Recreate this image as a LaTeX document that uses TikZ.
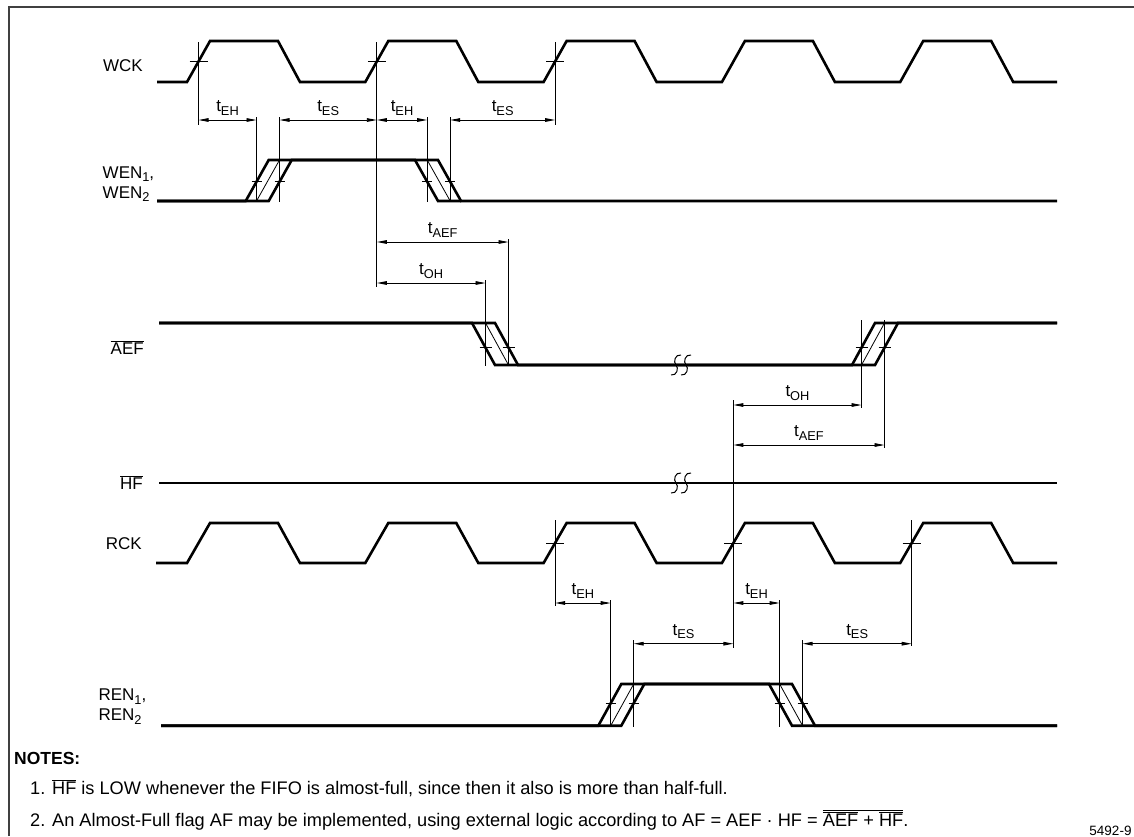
\documentclass[tikz,border=0pt]{standalone}
\usepackage{fontspec}
\setmainfont{Liberation Sans}
\usetikzlibrary{arrows.meta}
\newcommand\ovl[1]{$\overline{\mbox{#1}}$}
\newcommand\sbs[1]{\raisebox{-3.6pt}{\fontsize{12.8}{13}\selectfont #1}}
\begin{document}
\begin{tikzpicture}[x=1pt,y=-1pt,
  sig/.style={line width=2.6pt},
  hatch/.style={line width=0.8pt},
  refl/.style={line width=1pt},
  tick/.style={line width=0.9pt},
  frame/.style={line width=1.2pt,black!75},
  dim/.style={line width=0.9pt,{Triangle[length=10pt,width=3.6pt]}-{Triangle[length=10pt,width=3.6pt]}},
  lbl/.style={font=\fontsize{17}{20}\selectfont,inner sep=0pt},
  tl/.style={font=\fontsize{17}{20}\selectfont,inner sep=0pt,anchor=base,yshift=8.5pt},
  note/.style={font=\fontsize{18.2}{21}\selectfont,inner sep=0pt,anchor=base west},
  brk/.pic={\draw[line width=1pt] (5,-10) .. controls (-1,-11) and (-3,-3) .. (0,0) .. controls (3,3) and (1,11) .. (-5,10);}
]
\useasboundingbox (0,0) rectangle (1134,836);
\draw[frame] (9,836) -- (9,7) -- (1134,7);

% ---------- labels ----------
\node[lbl,anchor=base east] (lwck) at (143,71.5) {WCK};
\node[lbl,anchor=base west] (lwen1) at (102.5,178.3) {WEN\sbs{1},};
\node[lbl,anchor=base west] (lwen2) at (102.5,198.3) {WEN\sbs{2}};
\node[lbl,anchor=base east] (laef) at (144,354) {\ovl{AEF}};
\node[lbl,anchor=base east] (lhf) at (143,489) {\ovl{HF}};
\node[lbl,anchor=base east] (lrck) at (142,549) {RCK};
\node[lbl,anchor=base west] (lren1) at (98.3,700.7) {REN\sbs{1},};
\node[lbl,anchor=base west] (lren2) at (98.3,720.7) {REN\sbs{2}};

% ---------- waveforms ----------
% WCK
\draw[sig] (157,82) -- (187,82) -- (210,41) -- (278,41) -- (300,82) -- (365.3,82) -- (388.3,41) -- (456.3,41) -- (478.3,82) -- (543.6,82) -- (566.6,41) -- (634.6,41) -- (656.6,82) -- (721.9,82) -- (744.9,41) -- (812.9,41) -- (834.9,82) -- (900.2,82) -- (923.2,41) -- (991.2,41) -- (1013.2,82) -- (1057,82);
% RCK
\draw[sig] (156,563) -- (187,563) -- (210,523) -- (278,523) -- (300,563) -- (365.3,563) -- (388.3,523) -- (456.3,523) -- (478.3,563) -- (543.6,563) -- (566.6,523) -- (634.6,523) -- (656.6,563) -- (721.9,563) -- (744.9,523) -- (812.9,523) -- (834.9,563) -- (900.2,563) -- (923.2,523) -- (991.2,523) -- (1013.2,563) -- (1057,563);
% WEN
\draw[sig] (157,201) -- (245.7,201) -- (268.7,160) -- (438,160) -- (461,201) -- (1057,201);
\draw[sig] (157,201) -- (268.7,201) -- (291.7,160) -- (415,160) -- (438,201) -- (461,201);
\draw[hatch] (256.5,201) -- (279.5,160);
\draw[hatch] (427.2,160) -- (450.2,201);
% AEF
\draw[sig] (159,323) -- (472,323) -- (495,365) -- (875,365) -- (898,323) -- (1057,323);
\draw[sig] (159,323) -- (495,323) -- (518,365) -- (852,365) -- (875,323) -- (1057,323);
\draw[hatch] (485.5,323) -- (508.5,365);
\draw[hatch] (861.5,365) -- (884.5,323);
% HF
\draw[sig] (159,483) -- (1057,483);
% REN
\draw[sig] (161,725.7) -- (598.3,725.7) -- (621.3,684) -- (792,684) -- (815,725.7) -- (1057,725.7);
\draw[sig] (161,725.7) -- (621.3,725.7) -- (644.3,684) -- (769,684) -- (792,725.7) -- (1057,725.7);
\draw[hatch] (610.7,725.7) -- (633.7,684);
\draw[hatch] (779.6,684) -- (802.6,725.7);
% breaks
\pic at (676,365) {brk};
\pic at (686,365) {brk};
\pic at (676,483) {brk};
\pic at (686,483) {brk};

% ---------- crossing points ----------
\coordinate (w0) at (198.5,61.5);
\coordinate (w1) at (376.8,61.5);
\coordinate (w2) at (555.1,61.5);
\coordinate (r2) at (555.1,543);
\coordinate (r3) at (733.4,543);
\coordinate (r4) at (911.7,543);
\coordinate (wa) at (256.5,181.7);
\coordinate (wb) at (279.5,181.7);
\coordinate (wc) at (427.2,181.7);
\coordinate (wd) at (450.2,181.7);
\coordinate (aa) at (485.5,347.7);
\coordinate (ab) at (508.5,347.7);
\coordinate (ac) at (861.5,347.7);
\coordinate (ad) at (884.5,347.7);
\coordinate (ra) at (610.7,703.3);
\coordinate (rb) at (633.7,703.3);
\coordinate (rc) at (779.6,703.3);
\coordinate (rd) at (802.6,703.3);

% ticks
\foreach \p in {w0,w1,w2,r2,r3,r4}
  \draw[tick] ([xshift=-9pt]\p) -- ([xshift=9pt]\p);
\foreach \p in {wa,wb,wc,wd,ra,rb,rc,rd}
  \draw[tick] ([xshift=-5pt]\p) -- ([xshift=5pt]\p);
\foreach \p in {aa,ab,ac,ad}
  \draw[tick] ([xshift=-6pt]\p) -- ([xshift=6pt]\p);

% ---------- reference verticals ----------
\coordinate (T1) at (0,42);   \coordinate (B1) at (0,125);
\coordinate (B2) at (0,287);
\coordinate (T3) at (0,117);  \coordinate (B3) at (0,202);
\coordinate (T4) at (0,280);  \coordinate (T5) at (0,239); \coordinate (B4) at (0,366);
\coordinate (T6) at (0,320);  \coordinate (B6) at (0,408); \coordinate (B7) at (0,448);
\coordinate (T8) at (0,520);  \coordinate (B8) at (0,606); \coordinate (T9) at (0,400); \coordinate (B9) at (0,648); \coordinate (B10) at (0,646);
\coordinate (T11) at (0,600); \coordinate (T12) at (0,640); \coordinate (B11) at (0,727);

\draw[refl] (w0 |- T1) -- (w0 |- B1);
\draw[refl] (w1 |- T1) -- (w1 |- B2);
\draw[refl] (w2 |- T1) -- (w2 |- B1);
\foreach \p in {wa,wb,wc,wd} \draw[refl] (\p |- T3) -- (\p |- B3);
\draw[refl] (aa |- T4) -- (aa |- B4);
\draw[refl] (ab |- T5) -- (ab |- B4);
\draw[refl] (ac |- T6) -- (ac |- B6);
\draw[refl] (ad |- T6) -- (ad |- B7);
\draw[refl] (r2 |- T8) -- (r2 |- B8);
\draw[refl] (r3 |- T9) -- (r3 |- B9);
\draw[refl] (r4 |- T8) -- (r4 |- B10);
\draw[refl] (ra |- T11) -- (ra |- B11);
\draw[refl] (rb |- T12) -- (rb |- B11);
\draw[refl] (rc |- T11) -- (rc |- B11);
\draw[refl] (rd |- T12) -- (rd |- B11);

% ---------- dimension arrows ----------
\coordinate (Lwe) at (0,120);
\coordinate (La1) at (0,242); \coordinate (La2) at (0,283);
\coordinate (La3) at (0,405); \coordinate (La4) at (0,445);
\coordinate (Lr1) at (0,603); \coordinate (Lr2) at (0,643.7);

\draw[dim] (w0 |- Lwe) -- node[tl] {t\sbs{EH}} (wa |- Lwe);
\draw[dim] (wb |- Lwe) -- node[tl] {t\sbs{ES}} (w1 |- Lwe);
\draw[dim] (w1 |- Lwe) -- node[tl] {t\sbs{EH}} (wc |- Lwe);
\draw[dim] (wd |- Lwe) -- node[tl] {t\sbs{ES}} (w2 |- Lwe);

\draw[dim] (w1 |- La1) -- node[tl] {t\sbs{AEF}} (ab |- La1);
\draw[dim] (w1 |- La2) -- node[tl] {t\sbs{OH}} (aa |- La2);
\draw[dim] (r3 |- La3) -- node[tl] {t\sbs{OH}} (ac |- La3);
\draw[dim] (r3 |- La4) -- node[tl] {t\sbs{AEF}} (ad |- La4);

\draw[dim] (r2 |- Lr1) -- node[tl] {t\sbs{EH}} (ra |- Lr1);
\draw[dim] (rb |- Lr2) -- node[tl] {t\sbs{ES}} (r3 |- Lr2);
\draw[dim] (r3 |- Lr1) -- node[tl] {t\sbs{EH}} (rc |- Lr1);
\draw[dim] (rd |- Lr2) -- node[tl] {t\sbs{ES}} (r4 |- Lr2);

% ---------- notes ----------
\node[anchor=base west,inner sep=0pt,font=\bfseries\fontsize{17.5}{21}\selectfont] (notes) at (14,764) {NOTES:};
\node[note] (n1) at (30,794) {1. \ovl{HF} is LOW whenever the FIFO is almost-full, since then it also is more than half-full.};
\node[note] (n2) at (30,826) {2. An Almost-Full flag AF may be implemented, using external logic according to AF = AEF \textperiodcentered\ HF = $\overline{\mbox{\ovl{AEF} + \ovl{HF}}}$.};
\node[anchor=base east,inner sep=0pt,font=\fontsize{13.5}{16}\selectfont] (fig) at (1131.7,835) {5492-9};
\end{tikzpicture}
\end{document}
